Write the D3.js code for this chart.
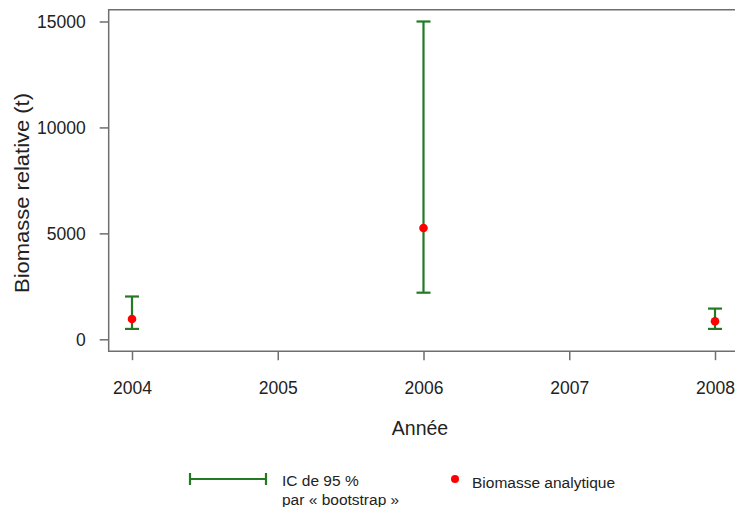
<!DOCTYPE html>
<html>
<head>
<meta charset="utf-8">
<script src="https://cdn.jsdelivr.net/npm/d3@7"></script>
<style>
  body { margin: 0; background: #fff; }
  text { font-family: "Liberation Sans", Arial, sans-serif; fill: #222; }
</style>
</head>
<body>
<div id="chart"></div>
<script>
// data
var years = [2004, 2006, 2008];
var biomass = [960, 5250, 850];      // biomasse analytique
var ciLow = [490, 2200, 490];        // IC 95 % bas
var ciHigh = [2020, 15000, 1450];    // IC 95 % haut
var xTicks = [2004, 2005, 2006, 2007, 2008];
var yTicks = [0, 5000, 10000, 15000];

var c = {
    w: 735,
    h: 507,
    green: '#237a23',
    red: '#ff0000',
    frame: '#6e6e6e',
    cap: 7
};

var svg = d3.select('#chart').append('svg')
    .attr('width', c.w)
    .attr('height', c.h);

var x = d3.scaleLinear().domain([2004, 2008]).range([132, 715]);
var y = d3.scaleLinear().domain([0, 15000]).range([339.3, 21.5]);

// R style box: extends 4 % past the data range
var x0 = x(2004 - 0.16), x1 = x(2008 + 0.16);
var yTop = y(15560), yBot = y(-560);

svg.append('path')
    .attr('d', 'M' + x1 + ',' + yTop + 'H' + x0 + 'V' + yBot + 'H' + x1)
    .attr('fill', 'none')
    .attr('stroke', c.frame)
    .attr('stroke-width', 1.5);

// y axis
var yAxis = svg.append('g')
    .attr('transform', 'translate(' + (x0 - 9) + ',0)')
    .call(d3.axisLeft(y).tickValues(yTicks).tickFormat(d3.format('d'))
        .tickSize(9).tickSizeOuter(0).tickPadding(6));
yAxis.select('.domain').remove();
yAxis.selectAll('.tick line')
    .attr('x2', 9)
    .attr('stroke', c.frame)
    .attr('stroke-width', 1.5);
yAxis.selectAll('.tick text')
    .attr('x', -14)
    .attr('dy', '0.36em')
    .style('font-size', '17.5px')
    .style('fill', '#222');

// x axis
var xAxis = svg.append('g')
    .attr('transform', 'translate(0,' + yBot + ')')
    .call(d3.axisBottom(x).tickValues(xTicks).tickFormat(d3.format('d')).tickSize(9).tickSizeOuter(0));
xAxis.select('.domain').remove();
xAxis.selectAll('.tick line')
    .attr('stroke', c.frame)
    .attr('stroke-width', 1.5);
xAxis.selectAll('.tick text')
    .attr('y', 43)
    .attr('dy', 0)
    .style('font-size', '17.5px')
    .style('fill', '#222');

// axis titles
svg.append('text')
    .attr('x', 420)
    .attr('y', 435)
    .attr('text-anchor', 'middle')
    .style('font-size', '19.5px')
    .text('Année');

svg.append('text')
    .attr('transform', 'translate(29,193) rotate(-90)')
    .attr('text-anchor', 'middle')
    .attr('textLength', 200)
    .attr('lengthAdjust', 'spacingAndGlyphs')
    .style('font-size', '20px')
    .text('Biomasse relative (t)');

// error bars
var rows = years.map(function(yr, i) {
    return { year: yr, v: biomass[i], lo: ciLow[i], hi: ciHigh[i] };
});

var bars = svg.append('g').selectAll('g').data(rows).enter().append('g')
    .attr('stroke', c.green)
    .attr('stroke-width', 2.2);

bars.append('line')
    .attr('x1', function(d) { return x(d.year); })
    .attr('x2', function(d) { return x(d.year); })
    .attr('y1', function(d) { return y(d.lo); })
    .attr('y2', function(d) { return y(d.hi); });
bars.append('line')
    .attr('x1', function(d) { return x(d.year) - c.cap; })
    .attr('x2', function(d) { return x(d.year) + c.cap; })
    .attr('y1', function(d) { return y(d.lo); })
    .attr('y2', function(d) { return y(d.lo); });
bars.append('line')
    .attr('x1', function(d) { return x(d.year) - c.cap; })
    .attr('x2', function(d) { return x(d.year) + c.cap; })
    .attr('y1', function(d) { return y(d.hi); })
    .attr('y2', function(d) { return y(d.hi); });

svg.append('g').selectAll('circle').data(rows).enter().append('circle')
    .attr('cx', function(d) { return x(d.year); })
    .attr('cy', function(d) { return y(d.v); })
    .attr('r', 4.3)
    .attr('fill', c.red);

// legend
var lg = svg.append('g').attr('stroke', c.green).attr('stroke-width', 2.2);
lg.append('line').attr('x1', 190).attr('x2', 266).attr('y1', 479).attr('y2', 479);
lg.append('line').attr('x1', 190).attr('x2', 190).attr('y1', 473).attr('y2', 485);
lg.append('line').attr('x1', 266).attr('x2', 266).attr('y1', 473).attr('y2', 485);

svg.append('text').attr('x', 282).attr('y', 485.5).style('font-size', '15.5px').text('IC de 95 %');
svg.append('text').attr('x', 282).attr('y', 505).style('font-size', '15.5px').text('par « bootstrap »');

svg.append('circle').attr('cx', 455).attr('cy', 479).attr('r', 4).attr('fill', c.red);
svg.append('text').attr('x', 472).attr('y', 487.5).style('font-size', '15.5px').text('Biomasse analytique');
</script>
</body>
</html>
